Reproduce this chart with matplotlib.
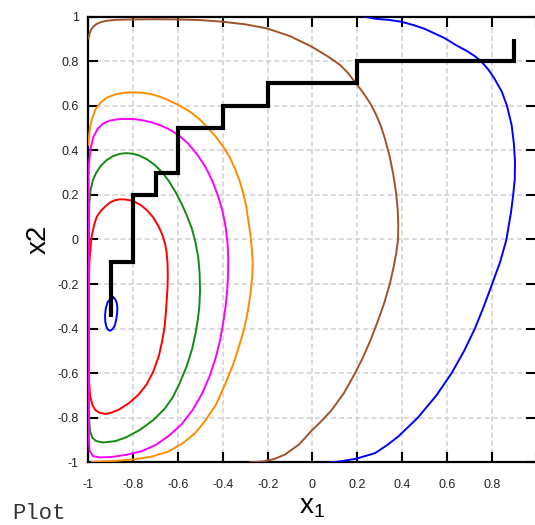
import matplotlib
matplotlib.use("Agg")
import matplotlib.pyplot as plt
import numpy as np

plt.rcParams['font.family'] = ['Liberation Sans', 'DejaVu Sans']
plt.rcParams['mathtext.fontset'] = 'custom'
plt.rcParams['mathtext.rm'] = 'Liberation Sans'
plt.rcParams['axes.unicode_minus'] = False

# contour lines (x1, x2)
small_blue_x = [-0.889, -0.880, -0.874, -0.871, -0.872, -0.876, -0.882, -0.892, -0.904, -0.913,
                -0.920, -0.925, -0.926, -0.923, -0.915, -0.902, -0.889]
small_blue_y = [-0.261, -0.270, -0.285, -0.305, -0.330, -0.358, -0.385, -0.402, -0.410, -0.405,
                -0.392, -0.370, -0.340, -0.310, -0.283, -0.265, -0.261]

red_x = [-0.992, -0.986, -0.975, -0.963, -0.945, -0.926, -0.905, -0.882, -0.859, -0.835, -0.812,
         -0.792, -0.765, -0.740, -0.712, -0.688, -0.670, -0.658, -0.651, -0.647, -0.646, -0.647,
         -0.650, -0.654, -0.660, -0.670, -0.685, -0.711, -0.740, -0.778, -0.820, -0.867, -0.900,
         -0.926, -0.950, -0.970, -0.983, -0.993, -0.997, -0.998, -0.998, -0.997, -0.996, -0.992]
red_y = [-0.050, 0.013, 0.065, 0.102, 0.128, 0.147, 0.165, 0.176, 0.180, 0.179, 0.175,
         0.168, 0.153, 0.132, 0.100, 0.060, 0.020, -0.020, -0.060, -0.110, -0.160, -0.210,
         -0.260, -0.320, -0.390, -0.450, -0.520, -0.593, -0.650, -0.698, -0.735, -0.765, -0.778,
         -0.783, -0.778, -0.765, -0.742, -0.700, -0.640, -0.500, -0.300, -0.150, -0.100, -0.050]

green_x = [-0.996, -0.990, -0.980, -0.965, -0.945, -0.920, -0.890, -0.860, -0.833, -0.805, -0.775,
           -0.740, -0.705, -0.670, -0.640, -0.610, -0.584, -0.560, -0.539, -0.523, -0.510, -0.504,
           -0.502, -0.505, -0.512, -0.522, -0.537, -0.562, -0.595, -0.625, -0.660, -0.710, -0.770,
           -0.830, -0.880, -0.934, -0.965, -0.983, -0.993, -0.997, -0.998, -0.998, -0.997, -0.996]
green_y = [0.177, 0.225, 0.267, 0.300, 0.330, 0.355, 0.374, 0.384, 0.387, 0.385, 0.377,
           0.360, 0.335, 0.300, 0.260, 0.210, 0.160, 0.105, 0.050, -0.010, -0.080, -0.150,
           -0.230, -0.300, -0.360, -0.420, -0.490, -0.570, -0.650, -0.710, -0.760, -0.810, -0.854,
           -0.887, -0.905, -0.911, -0.905, -0.890, -0.860, -0.810, -0.600, -0.200, 0.100, 0.177]

magenta_x = [-1.000, -0.997, -0.990, -0.978, -0.960, -0.935, -0.905, -0.870, -0.835, -0.800, -0.760,
             -0.720, -0.680, -0.644, -0.600, -0.555, -0.510, -0.475, -0.446, -0.420, -0.400, -0.387,
             -0.379, -0.376, -0.377, -0.381, -0.388, -0.398, -0.412, -0.432, -0.458, -0.492, -0.535,
             -0.585, -0.640, -0.700, -0.762, -0.830, -0.896, -0.950, -0.980, -0.995, -0.998, -0.998,
             -1.000]
magenta_y = [0.297, 0.350, 0.410, 0.460, 0.495, 0.520, 0.533, 0.539, 0.541, 0.540, 0.535,
             0.526, 0.512, 0.496, 0.470, 0.430, 0.375, 0.320, 0.260, 0.190, 0.120, 0.050,
             -0.020, -0.090, -0.160, -0.230, -0.300, -0.370, -0.450, -0.530, -0.610, -0.690, -0.765,
             -0.830, -0.880, -0.922, -0.950, -0.966, -0.976, -0.978, -0.972, -0.950, -0.900, 0.000,
             0.297]

orange_x = [-1.000, -0.997, -0.992, -0.983, -0.968, -0.949, -0.920, -0.880, -0.840, -0.800, -0.760,
            -0.720, -0.680, -0.651, -0.600, -0.550, -0.505, -0.472, -0.435, -0.400, -0.370, -0.345,
            -0.325, -0.309, -0.296, -0.287, -0.277, -0.271, -0.267, -0.269, -0.274, -0.282, -0.292,
            -0.305, -0.325, -0.354, -0.390, -0.430, -0.480, -0.525, -0.580, -0.644, -0.720, -0.792,
            -0.870, -0.941, -0.985]
orange_y = [0.424, 0.470, 0.510, 0.545, 0.585, 0.611, 0.635, 0.651, 0.658, 0.660, 0.658,
            0.652, 0.640, 0.628, 0.604, 0.575, 0.540, 0.506, 0.465, 0.418, 0.370, 0.315,
            0.262, 0.207, 0.150, 0.087, 0.020, -0.040, -0.100, -0.160, -0.220, -0.280, -0.340,
            -0.400, -0.470, -0.560, -0.650, -0.740, -0.815, -0.870, -0.915, -0.952, -0.975, -0.986,
            -0.993, -0.996, -0.999]

brown_x = [-1.000, -0.995, -0.988, -0.979, -0.965, -0.945, -0.919, -0.880, -0.800, -0.700, -0.606,
           -0.500, -0.405, -0.300, -0.204, -0.100, -0.004, 0.070, 0.123, 0.160, 0.190, 0.225,
           0.257, 0.280, 0.303, 0.324, 0.345, 0.361, 0.373, 0.380, 0.383, 0.382, 0.374, 0.362,
           0.346, 0.322, 0.294, 0.260, 0.225, 0.190, 0.140, 0.086, 0.040, -0.004, -0.060, -0.123,
           -0.170, -0.220, -0.279]
brown_y = [0.902, 0.925, 0.942, 0.954, 0.966, 0.975, 0.981, 0.985, 0.987, 0.988, 0.987,
           0.984, 0.977, 0.965, 0.947, 0.912, 0.865, 0.820, 0.783, 0.745, 0.705, 0.660,
           0.612, 0.568, 0.515, 0.450, 0.370, 0.289, 0.210, 0.140, 0.070, 0.000, -0.060, -0.125,
           -0.196, -0.280, -0.360, -0.450, -0.530, -0.600, -0.690, -0.765, -0.815, -0.858, -0.920, -0.965,
           -0.985, -0.996, -1.000]

blue_x = [0.230, 0.279, 0.340, 0.395, 0.450, 0.500, 0.550, 0.592, 0.640, 0.690, 0.725, 0.755,
          0.785, 0.812, 0.845, 0.868, 0.889, 0.899, 0.904, 0.903, 0.896, 0.886, 0.874, 0.866,
          0.838, 0.802, 0.765, 0.725, 0.677, 0.621, 0.553, 0.470, 0.383, 0.330, 0.279, 0.194,
          0.123, 0.080]
blue_y = [1.000, 0.990, 0.985, 0.977, 0.962, 0.945, 0.922, 0.902, 0.872, 0.845, 0.822, 0.797,
          0.762, 0.722, 0.663, 0.600, 0.513, 0.430, 0.349, 0.270, 0.200, 0.120, 0.050, 0.000,
          -0.100, -0.200, -0.300, -0.400, -0.500, -0.600, -0.700, -0.800, -0.884, -0.925, -0.959, -0.984,
          -0.996, -1.000]

# coordinate search path
path_x1 = [-0.9, -0.9, -0.8, -0.8, -0.7, -0.7, -0.6, -0.6, -0.4, -0.4, -0.2, -0.2, 0.2, 0.2, 0.9, 0.9]
path_x2 = [-0.35, -0.1, -0.1, 0.2, 0.2, 0.3, 0.3, 0.5, 0.5, 0.6, 0.6, 0.7, 0.7, 0.8, 0.8, 0.9]

ticks = [-1, -0.8, -0.6, -0.4, -0.2, 0, 0.2, 0.4, 0.6, 0.8, 1]
tick_labels = ['-1', '-0.8', '-0.6', '-0.4', '-0.2', '0', '0.2', '0.4', '0.6', '0.8', '1']

fig = plt.figure(figsize=(5.35, 5.25), dpi=100)
ax = fig.add_axes([0.1654, 0.1194, 0.8374, 0.8491])

curves = [
    (small_blue_x, small_blue_y, '#0000ff'),
    (red_x, red_y, '#ff0000'),
    (green_x, green_y, '#138a13'),
    (magenta_x, magenta_y, '#ff00ff'),
    (orange_x, orange_y, '#ff8c00'),
    (brown_x, brown_y, '#a0522d'),
    (blue_x, blue_y, '#0000ff'),
]
for cx, cy, col in curves:
    ax.plot(cx, cy, color=col, lw=1.4, zorder=3, solid_joinstyle='round')

ax.plot(path_x1, path_x2, color='black', lw=3, zorder=4,
        solid_joinstyle='miter', solid_capstyle='butt')

ax.set_xlim(-1, 1)
ax.set_ylim(-1, 1)
ax.set_xticks(ticks)
ax.set_yticks(ticks)
ax.set_xticklabels(tick_labels)
ax.set_yticklabels(tick_labels)
ax.tick_params(direction='in', length=7, width=1.5, top=True, right=True,
               labelsize=9, labelcolor='#222222')
ax.tick_params(axis='x', pad=12)
ax.tick_params(axis='y', pad=7)
for sp in ax.spines.values():
    sp.set_linewidth(1.6)

ax.grid(True, color='#d0d0d0', lw=1.1, linestyle=(0, (3.3, 2)), zorder=0)
ax.set_axisbelow(True)

ax.set_xlabel('x$_1$', fontsize=20, labelpad=2)
ax.set_ylabel('x2', fontsize=20, labelpad=4)

fig.text(0.022, 0.012, 'Plot', family='Liberation Mono', fontsize=16, color='#333333')

fig.savefig('out.png', dpi=100)
